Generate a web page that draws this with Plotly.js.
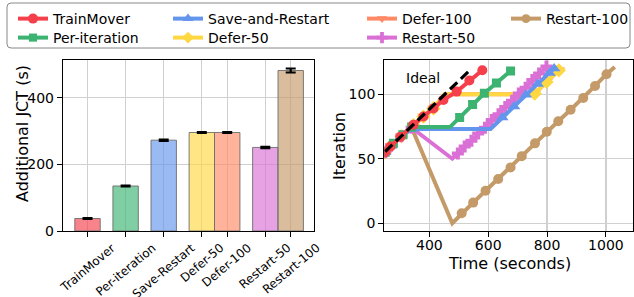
<!DOCTYPE html>
<html><head><meta charset="utf-8">
<script src="https://cdn.plot.ly/plotly-3.0.1.min.js"></script>
<style>html,body{margin:0;padding:0;background:#fff}#chart{width:634px;height:297px}</style>
</head><body><div id="chart"></div>
<script>
// ---------------- data ----------------
const barCategories = ['TrainMover', 'Per-iteration', 'Save-Restart', 'Defer-50', 'Defer-100', 'Restart-50', 'Restart-100'];
const barJCT = [37.5, 135, 272.5, 295.5, 295.5, 250.7, 481.5];
const barJCTError = [1.5, 1.5, 2, 1.5, 1.5, 2, 6];

const seriesNames = ['TrainMover', 'Per-iteration', 'Save-and-Restart', 'Defer-50', 'Defer-100', 'Restart-50', 'Restart-100'];

const idealTime = [250, 542];
const idealIter = [55.5, 119.5];

const trainMoverTime = [250, 268, 302, 346, 380, 414, 448, 493, 536, 580];
const trainMoverIter = [55, 59.5, 67, 76.3, 82.7, 89, 95.6, 102, 110.6, 118.5];

const perIterationTime = [250, 278, 310, 340, 470, 503, 547, 587, 628, 676];
const perIterationIter = [55, 62, 68.5, 74.5, 74.5, 82, 92, 100.7, 108.7, 118];

const saveRestartTime = [250, 270, 305, 340, 608, 648, 688, 728, 768, 808, 824];
const saveRestartIter = [55, 60, 67.5, 73, 73, 82, 90.5, 99.5, 108, 116.5, 120];

const defer50Time = [250, 270, 305, 346, 380, 414, 452, 742, 758, 798, 840];
const defer50Iter = [55, 60, 67.5, 76, 82.7, 89, 100, 100, 100.5, 109.5, 118.5];

const defer100Time = [250, 270, 305, 346, 380, 414, 452, 742, 758, 798, 840];
const defer100Iter = [55, 60, 67.5, 76, 82.7, 89, 100, 100, 100.5, 109.5, 118.5];

const restart50Time = [250, 270, 305, 340, 478, 497, 520, 543, 566, 589, 612, 635, 658, 681, 704, 727, 750, 773, 798];
const restart50Iter = [55, 60, 67.5, 74, 50, 54, 59.5, 64, 69.5, 74, 80, 84.5, 90, 95, 100.5, 105, 111, 116, 121.5];

const restart100Time = [250, 270, 305, 340, 478, 510, 549, 591, 634, 676, 714, 759, 799, 838, 880, 923, 963, 1002, 1030];
const restart100Iter = [55, 60, 67.5, 74, 0, 7.7, 16, 25.2, 34.3, 43.3, 52, 61.9, 70.9, 79, 88, 97, 106.4, 115.5, 121];

const leftYTicks = [0, 200, 400];
const rightXTicks = [400, 600, 800, 1000];
const rightYTicks = [0, 50, 100];

// ---------------- styling / geometry ----------------
const W = 634, H = 297;
const px = v => v / W;
const py = v => 1 - v / H;
const FONT = 'DejaVu Sans, Verdana, sans-serif';

const colors = {
  'TrainMover': '#f5404c',
  'Per-iteration': '#3cb371',
  'Save-and-Restart': '#6495ed',
  'Defer-50': '#ffd740',
  'Defer-100': '#ff8a65',
  'Restart-50': '#da70d6',
  'Restart-100': '#c49a68'
};
const barColorKeys = ['TrainMover', 'Per-iteration', 'Save-and-Restart', 'Defer-50', 'Defer-100', 'Restart-50', 'Restart-100'];
function rgba(hex, a) {
  const n = parseInt(hex.slice(1), 16);
  return `rgba(${(n >> 16) & 255},${(n >> 8) & 255},${n & 255},${a})`;
}
const barPositions = [0, 1.5, 3, 4.5, 5.5, 7, 8];

// legend slot: [column left px, row top px]
const lineStyle = {
  'TrainMover':       {t: trainMoverTime,   y: trainMoverIter,   symbol: 'circle',        size: 10, hide: [],      slot: [13, 3]},
  'Per-iteration':    {t: perIterationTime, y: perIterationIter, symbol: 'square',        size: 9,  hide: [4],     slot: [13, 22]},
  'Save-and-Restart': {t: saveRestartTime,  y: saveRestartIter,  symbol: 'triangle-up',   size: 11, hide: [4],     slot: [168, 3]},
  'Defer-50':         {t: defer50Time,      y: defer50Iter,      symbol: 'diamond',       size: 11, hide: [6, 7],  slot: [168, 22]},
  'Defer-100':        {t: defer100Time,     y: defer100Iter,     symbol: 'triangle-down', size: 11, hide: [6, 7],  slot: [362, 3]},
  'Restart-50':       {t: restart50Time,    y: restart50Iter,    symbol: 'cross',         size: 10, hide: [4],     slot: [362, 22]},
  'Restart-100':      {t: restart100Time,   y: restart100Iter,   symbol: 'circle',        size: 10, hide: [4, 18], slot: [506, 3]}
};
const drawOrder = ['Restart-100', 'Defer-100', 'Defer-50', 'Restart-50', 'Save-and-Restart', 'Per-iteration', 'TrainMover'];

const traces = [];
traces.push({
  type: 'bar', x: barPositions, y: barJCT, width: 1, xaxis: 'x', yaxis: 'y',
  marker: {color: barColorKeys.map(k => rgba(colors[k], 0.65)), line: {color: 'rgba(110,110,110,0.9)', width: 1}},
  error_y: {type: 'data', array: barJCTError, visible: true, color: '#000', thickness: 2.2, width: 5},
  showlegend: false, hoverinfo: 'skip'
});
const legendLayouts = {};
drawOrder.forEach(name => {
  const s = lineStyle[name];
  const idx = seriesNames.indexOf(name);
  const legId = 'legend' + (idx === 0 ? '' : (idx + 1));
  traces.push({
    type: 'scatter', mode: 'lines+markers', name: name, x: s.t, y: s.y, xaxis: 'x2', yaxis: 'y2',
    line: {color: colors[name], width: 4},
    marker: {symbol: s.symbol, color: colors[name], opacity: 1, line: {width: 0},
             size: s.t.map((_, i) => s.hide.includes(i) ? 0 : s.size)},
    legend: legId, cliponaxis: true
  });
  legendLayouts[legId] = {
    orientation: 'v', xanchor: 'left', yanchor: 'top', x: px(s.slot[0]), y: py(s.slot[1]),
    bgcolor: 'rgba(0,0,0,0)', borderwidth: 0, font: {family: FONT, size: 14, color: '#000'},
    itemclick: false, itemdoubleclick: false
  };
});
traces.push({
  type: 'scatter', mode: 'lines', x: idealTime, y: idealIter, xaxis: 'x2', yaxis: 'y2',
  line: {color: '#000', width: 3.2, dash: '10px,5px'}, showlegend: false
});

const axisCommon = {
  showline: true, mirror: true, linecolor: '#000', linewidth: 1.2,
  ticks: 'outside', ticklen: 5, tickwidth: 1, tickcolor: '#000',
  showgrid: true, gridcolor: '#d0d0d0', gridwidth: 1.3, zeroline: false,
  tickfont: {family: FONT, size: 14, color: '#000'}, automargin: false, fixedrange: true
};

const yBottom = py(231), yTop = py(60);
const annotations = barCategories.map((c, i) => ({
  x: barPositions[i], xref: 'x', y: yBottom, yref: 'paper', xanchor: 'center', yanchor: 'top',
  yshift: -7, textangle: -40, showarrow: false, text: c,
  font: {family: FONT, size: 12, color: '#000'}
}));
annotations.push(
  {x: px(23), y: py(134), xref: 'paper', yref: 'paper', text: 'Additional JCT (s)', textangle: -90, showarrow: false,
   xanchor: 'center', yanchor: 'middle', font: {family: FONT, size: 16, color: '#000'}},
  {x: px(339), y: py(146), xref: 'paper', yref: 'paper', text: 'Iteration', textangle: -90, showarrow: false,
   xanchor: 'center', yanchor: 'middle', font: {family: FONT, size: 16, color: '#000'}},
  {x: px(509), y: py(263), xref: 'paper', yref: 'paper', text: 'Time (seconds)', showarrow: false,
   xanchor: 'center', yanchor: 'middle', font: {family: FONT, size: 16, color: '#000'}},
  {x: 378, y: 112.5, xref: 'x2', yref: 'y2', text: 'Ideal', showarrow: false,
   xanchor: 'center', yanchor: 'middle', font: {family: FONT, size: 14, color: '#000'}}
);

// rounded legend frame
const fx0 = 7, fx1 = 630, fy0 = 3, fy1 = 48, r = 4;
const framePath = [
  `M${px(fx0 + r)},${py(fy0)}`, `L${px(fx1 - r)},${py(fy0)}`, `Q${px(fx1)},${py(fy0)} ${px(fx1)},${py(fy0 + r)}`,
  `L${px(fx1)},${py(fy1 - r)}`, `Q${px(fx1)},${py(fy1)} ${px(fx1 - r)},${py(fy1)}`,
  `L${px(fx0 + r)},${py(fy1)}`, `Q${px(fx0)},${py(fy1)} ${px(fx0)},${py(fy1 - r)}`,
  `L${px(fx0)},${py(fy0 + r)}`, `Q${px(fx0)},${py(fy0)} ${px(fx0 + r)},${py(fy0)}`, 'Z'
].join(' ');

const layout = Object.assign({
  width: W, height: H, margin: {l: 0, r: 0, t: 0, b: 0}, paper_bgcolor: '#fff', plot_bgcolor: '#fff',
  font: {family: FONT, size: 14, color: '#000'}, showlegend: true, bargap: 0,
  xaxis: Object.assign({}, axisCommon, {domain: [px(63), px(314)], range: [-0.965, 8.917], tickvals: barPositions, showticklabels: false, anchor: 'y'}),
  yaxis: Object.assign({}, axisCommon, {domain: [yBottom, yTop], range: [0, 513], tickvals: leftYTicks, anchor: 'x'}),
  xaxis2: Object.assign({}, axisCommon, {domain: [px(384.3), px(633.3)], range: [247, 1093], tickvals: rightXTicks, anchor: 'y2', ticklabelstandoff: -4}),
  yaxis2: Object.assign({}, axisCommon, {domain: [yBottom, yTop], range: [-6, 126.5], tickvals: rightYTicks, anchor: 'x2'}),
  shapes: [{type: 'path', xref: 'paper', yref: 'paper', path: framePath, line: {color: '#888', width: 1}, fillcolor: 'rgba(0,0,0,0)'}],
  annotations: annotations
}, legendLayouts);

Plotly.newPlot('chart', traces, layout, {displayModeBar: false, staticPlot: true});
</script>
</body></html>
